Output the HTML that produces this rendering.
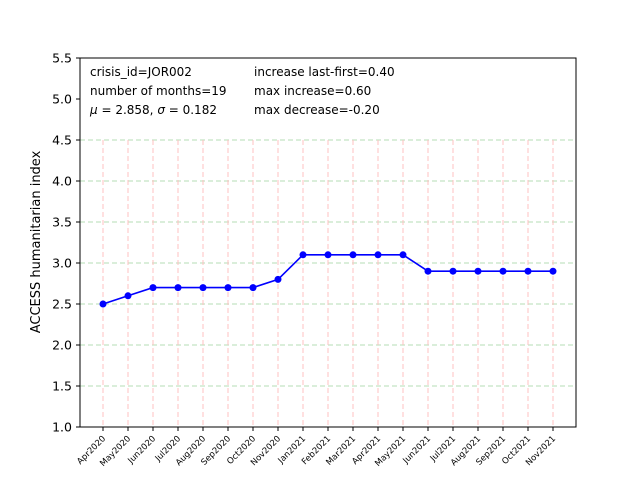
<!DOCTYPE html>
<html><head><meta charset="utf-8"><style>body{margin:0;background:#fff}svg{font-family:"DejaVu Sans","Liberation Sans",sans-serif}</style></head>
<body>
<svg id="chart" width="640" height="480" xmlns="http://www.w3.org/2000/svg">
<rect width="640" height="480" fill="#fff"/>
<g id="grid"></g>
<g id="axes"></g>
<g id="series"></g>
<rect x="80" y="58" width="496" height="369" fill="none" stroke="#000" stroke-width="1"/>
<g font-size="12" fill="#000">
<text x="90" y="76">crisis_id=JOR002</text>
<text x="90" y="95">number of months=19</text>
<text x="90" y="114"><tspan font-style="italic">μ</tspan> = 2.858, <tspan font-style="italic">σ</tspan> = 0.182</text>
<text x="254" y="76">increase last-first=0.40</text>
<text x="254" y="95">max increase=0.60</text>
<text x="254" y="114">max decrease=-0.20</text>
</g>
<text transform="translate(40,242) rotate(-90)" text-anchor="middle" font-size="13">ACCESS humanitarian index</text>
</svg>
<script>
const categories=["Apr2020","May2020","Jun2020","Jul2020","Aug2020","Sep2020","Oct2020","Nov2020","Jan2021","Feb2021","Mar2021","Apr2021","May2021","Jun2021","Jul2021","Aug2021","Sep2021","Oct2021","Nov2021"];
const values=[2.5,2.6,2.7,2.7,2.7,2.7,2.7,2.8,3.1,3.1,3.1,3.1,3.1,2.9,2.9,2.9,2.9,2.9,2.9];
const yTicks=[1.0,1.5,2.0,2.5,3.0,3.5,4.0,4.5,5.0,5.5];
const gridY=[1.5,2.0,2.5,3.0,3.5,4.0,4.5];
(function(){
const NS="http://www.w3.org/2000/svg";
const yMin=1.0,yMax=5.5,plotTop=58,plotBot=427;
function ys(v){return plotBot-(v-yMin)/(yMax-yMin)*(plotBot-plotTop);}
function xs(i){return 103+i*25;}
function mk(t,a,p){const e=document.createElementNS(NS,t);for(const k in a)e.setAttribute(k,a[k]);p.appendChild(e);return e;}
const grid=document.getElementById('grid'),axes=document.getElementById('axes'),ser=document.getElementById('series');
gridY.forEach(v=>{const l=mk('line',{x1:80,x2:576,y1:ys(v),y2:ys(v),stroke:'#b5dcb5','stroke-dasharray':'5,3','stroke-width':1},grid);

});
categories.forEach((c,i)=>{const l=mk('line',{x1:xs(i),x2:xs(i),y1:ys(4.5),y2:plotBot,stroke:'#ffc0c0','stroke-dasharray':'5,3','stroke-width':1},grid);


const t=mk('line',{x1:xs(i),x2:xs(i),y1:plotBot,y2:plotBot+4,stroke:'#000'},axes);


const tx=mk('text',{x:xs(i)+3,y:plotBot+12,'font-size':'8.5','text-anchor':'end',transform:`rotate(-45 ${xs(i)+3} ${plotBot+12})`},axes);
tx.textContent=c;

});
yTicks.forEach(v=>{const t=mk('line',{x1:76,x2:80,y1:ys(v),y2:ys(v),stroke:'#000'},axes);


const tx=mk('text',{x:72,y:ys(v)+4.5,'font-size':'12.5','text-anchor':'end'},axes);
tx.textContent=v.toFixed(1);

});
const pl=mk('polyline',{points:values.map((v,i)=>xs(i)+','+ys(v)).join(' '),fill:'none',stroke:'#0000ff','stroke-width':1.6},ser);


values.forEach((v,i)=>{const c=mk('circle',{cx:xs(i),cy:ys(v),r:3.5,fill:'#0000ff'},ser);

});
})();
</script>
</body></html>
